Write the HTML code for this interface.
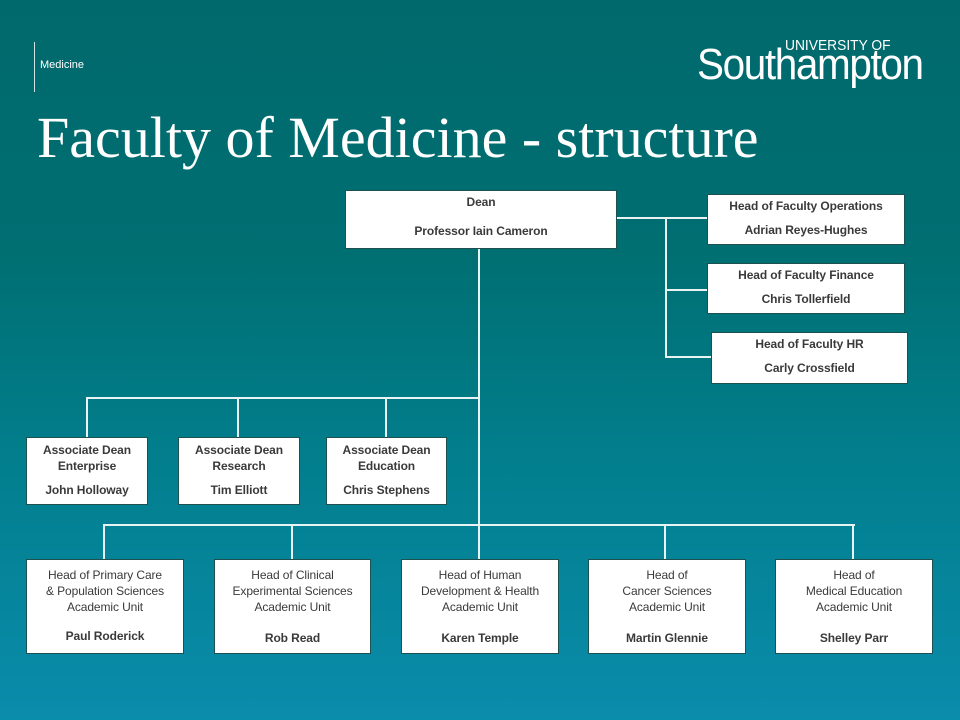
<!DOCTYPE html>
<html><head><meta charset="utf-8"><style>
*{margin:0;padding:0;box-sizing:border-box}
body{width:960px;height:720px;overflow:hidden;position:relative;font-family:"Liberation Sans",sans-serif;
background:linear-gradient(180deg,#00696c 0%,#006f72 35%,#027f8e 65%,#0a8cab 100%)}
.t{position:absolute;color:#fff;white-space:nowrap}
.b{position:absolute;background:#fff;border:1px solid #1f5050;color:#3a3a3a;font-size:12px;text-align:center;line-height:16px;letter-spacing:-0.1px}
.bd{font-weight:bold}
.l{position:absolute;background:#e8f4f4}
</style></head><body>
<div class="l" style="left:34px;top:42px;width:1px;height:50px;background:#cfe3e3"></div>
<div class="t" style="left:40px;top:59px;font-size:11px">Medicine</div>
<div class="t" style="left:785px;top:37px;font-size:15px;transform:scaleX(0.92);transform-origin:left">UNIVERSITY OF</div>
<div class="t" style="left:697px;top:40px;font-size:44px;letter-spacing:-1.5px;transform:scaleX(0.92);transform-origin:left">Southampton</div>
<div class="t" style="left:37px;top:104px;font-size:58px;font-family:'Liberation Serif',serif">Faculty of Medicine - structure</div>

<div class="l" style="left:478px;top:248px;width:2px;height:311px"></div>
<div class="l" style="left:616px;top:217px;width:91px;height:2px"></div>
<div class="l" style="left:665px;top:217px;width:2px;height:141px"></div>
<div class="l" style="left:665px;top:289px;width:42px;height:2px"></div>
<div class="l" style="left:665px;top:356px;width:46px;height:2px"></div>
<div class="l" style="left:86px;top:397px;width:394px;height:2px"></div>
<div class="l" style="left:86px;top:397px;width:2px;height:40px"></div>
<div class="l" style="left:237px;top:397px;width:2px;height:40px"></div>
<div class="l" style="left:385px;top:397px;width:2px;height:40px"></div>
<div class="l" style="left:103px;top:524px;width:752px;height:2px"></div>
<div class="l" style="left:103px;top:524px;width:2px;height:35px"></div>
<div class="l" style="left:291px;top:524px;width:2px;height:35px"></div>
<div class="l" style="left:664px;top:524px;width:2px;height:35px"></div>
<div class="l" style="left:852px;top:524px;width:2px;height:35px"></div>

<div class="b bd" style="left:345px;top:190px;width:272px;height:59px;padding-top:3px">Dean<div style="margin-top:13px">Professor&nbsp;Iain Cameron</div></div>
<div class="b bd" style="left:707px;top:194px;width:198px;height:51px;padding-top:3px">Head of Faculty Operations<div style="margin-top:8px">Adrian Reyes-Hughes</div></div>
<div class="b bd" style="left:707px;top:263px;width:198px;height:51px;padding-top:3px">Head of Faculty Finance<div style="margin-top:8px">Chris Tollerfield</div></div>
<div class="b bd" style="left:711px;top:332px;width:197px;height:52px;padding-top:3px">Head of Faculty HR<div style="margin-top:8px">Carly Crossfield</div></div>

<div class="b bd" style="left:26px;top:437px;width:122px;height:68px;padding-top:4px">Associate Dean<br>Enterprise<div style="margin-top:8px">John Holloway</div></div>
<div class="b bd" style="left:178px;top:437px;width:122px;height:68px;padding-top:4px">Associate Dean<br>Research<div style="margin-top:8px">Tim Elliott</div></div>
<div class="b bd" style="left:326px;top:437px;width:121px;height:68px;padding-top:4px">Associate Dean<br>Education<div style="margin-top:8px">Chris Stephens</div></div>

<div class="b" style="left:26px;top:559px;width:158px;height:95px;padding-top:7px">Head of Primary Care<br>&amp; Population Sciences<br>Academic Unit<div class="bd" style="margin-top:13px">Paul Roderick</div></div>
<div class="b" style="left:214px;top:559px;width:157px;height:95px;padding-top:7px">Head of Clinical<br>Experimental Sciences<br>Academic Unit<div class="bd" style="margin-top:15px">Rob Read</div></div>
<div class="b" style="left:401px;top:559px;width:158px;height:95px;padding-top:7px">Head of Human<br>Development &amp; Health<br>Academic Unit<div class="bd" style="margin-top:15px">Karen Temple</div></div>
<div class="b" style="left:588px;top:559px;width:158px;height:95px;padding-top:7px">Head of<br>Cancer Sciences<br>Academic Unit<div class="bd" style="margin-top:15px">Martin Glennie</div></div>
<div class="b" style="left:775px;top:559px;width:158px;height:95px;padding-top:7px">Head of<br>Medical Education<br>Academic Unit<div class="bd" style="margin-top:15px">Shelley Parr</div></div>
</body></html>
